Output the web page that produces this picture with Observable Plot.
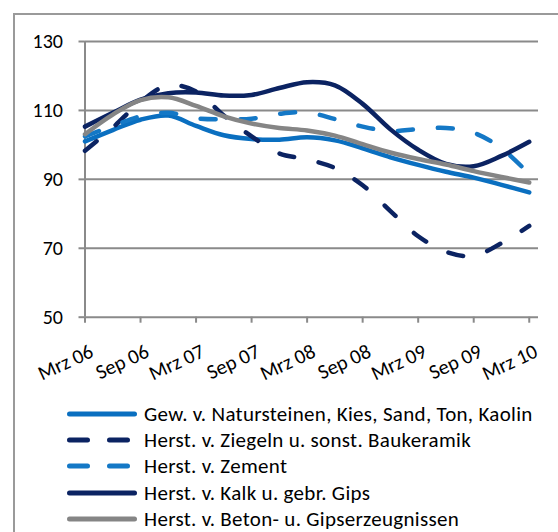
<!DOCTYPE html>
<html>
<head>
<meta charset="utf-8">
<script src="https://cdn.jsdelivr.net/npm/d3@7"></script>
<script src="https://cdn.jsdelivr.net/npm/@observablehq/plot@0.6"></script>
<style>
  html, body { margin: 0; padding: 0; background: #fff; }
  body { width: 558px; height: 532px; overflow: hidden; position: relative; font-family: Carlito, Lato, sans-serif; }
  #frame { position: absolute; left: 13px; top: 13px; width: 600px; height: 600px; border-left: 2px solid #9a9a9a; border-top: 2px solid #9a9a9a; box-sizing: border-box; pointer-events: none; }
  #chart { position: absolute; left: 0; top: 0; }
  #legend { position: absolute; left: 0; top: 401px; width: 558px; }
  .row { display: flex; align-items: center; height: 26.2px; }
  .row svg { margin-left: 66px; flex: none; }
  .row span { margin-left: 6px; font-size: 21px; letter-spacing: 0.3px; line-height: 22px; color: #000; white-space: nowrap; }
</style>
</head>
<body>
<div id="frame"></div>
<div id="chart"></div>
<div id="legend"></div>
<script>
// month index from Mrz 06 (0) to Mrz 10 (48), read at quarterly points
const months = [0, 3, 6, 9, 12, 15, 18, 21, 24, 27, 30, 33, 36, 39, 42, 45, 48];
const tickLabels = ["Mrz 06", "Sep 06", "Mrz 07", "Sep 07", "Mrz 08", "Sep 08", "Mrz 09", "Sep 09", "Mrz 10"];
const tickMonths = [0, 6, 12, 18, 24, 30, 36, 42, 48];
const yTicks = [50, 70, 90, 110, 130];

const seriesNames = [
  "Gew. v. Natursteinen, Kies, Sand, Ton, Kaolin",
  "Herst. v. Ziegeln u. sonst. Baukeramik",
  "Herst. v. Zement",
  "Herst. v. Kalk u. gebr. Gips",
  "Herst. v. Beton- u. Gipserzeugnissen"
];
const natur   = [101.0, 104.3, 107.3, 108.5, 105.5, 102.8, 101.7, 101.5, 102.2, 101.3, 99.0, 96.4, 94.2, 92.2, 90.5, 88.4, 86.2];
const ziegeln = [98.3, 105.0, 112.5, 117.3, 115.5, 108.5, 102.5, 97.5, 95.8, 93.3, 88.3, 80.8, 73.5, 69.0, 67.8, 71.5, 76.5];
const zement  = [102.5, 105.5, 108.3, 109.3, 107.7, 107.4, 107.6, 109.0, 109.4, 107.5, 105.3, 104.0, 104.6, 104.9, 103.5, 99.0, 91.5];
const kalk    = [105.3, 109.3, 113.1, 115.0, 115.2, 114.3, 114.5, 116.5, 118.2, 117.3, 111.9, 104.5, 98.6, 94.5, 93.8, 96.8, 100.9];
const beton   = [103.1, 108.8, 113.0, 113.8, 111.3, 108.3, 106.2, 104.9, 104.2, 102.7, 100.2, 97.8, 95.9, 94.3, 92.4, 90.7, 89.1];

const seriesValues = [natur, ziegeln, zement, kalk, beton];
const seriesColors = ["#0A6FC0", "#0B2362", "#1478C6", "#0B2362", "#858585"];
const seriesDash = [null, "15,25", "15,25", null, null];

const marks = [
  Plot.gridY(yTicks, {stroke: "#8a8a8a", strokeOpacity: 1, strokeWidth: 2}),
  Plot.ruleX([0], {stroke: "#8a8a8a", strokeWidth: 2}),
  Plot.axisY({ticks: yTicks, tickSize: 6, tickPadding: 16, stroke: "#8a8a8a", strokeWidth: 2, fontSize: 20, fill: "#000", label: null}),
  // tick marks only
  Plot.axisX({ticks: tickMonths, tickFormat: () => "", tickSize: 6, stroke: "#8a8a8a", strokeWidth: 2, label: null}),
  // rotated tick labels only
  Plot.axisX({ticks: tickMonths, tickFormat: (m) => tickLabels[tickMonths.indexOf(m)], tickRotate: -25, tickSize: 0, tickPadding: 33, dx: 7, fontSize: 20.5, fill: "#000", label: null}),
];
seriesValues.forEach((vals, i) => {
  marks.push(Plot.lineY(vals, {
    x: (d, j) => months[j],
    y: (d) => d,
    stroke: seriesColors[i],
    strokeWidth: 4.5,
    strokeLinecap: "round",
    strokeLinejoin: "round",
    strokeDasharray: seriesDash[i] || undefined,
    curve: "catmull-rom"
  }));
});

const chart = Plot.plot({
  width: 558,
  height: 400,
  marginLeft: 84.5,
  marginRight: 20,
  marginTop: 41,
  marginBottom: 83.3,
  style: {fontFamily: "Carlito, Lato, sans-serif", background: "transparent", overflow: "visible"},
  x: {domain: [0, 49]},
  y: {domain: [50, 130]},
  marks
});
document.getElementById("chart").appendChild(chart);

const legend = document.getElementById("legend");
seriesNames.forEach((name, i) => {
  const row = document.createElement("div");
  row.className = "row";
  const dash = seriesDash[i] ? ' stroke-dasharray="18,22"' : "";
  row.innerHTML = `<svg width="72" height="10"><line x1="3.5" x2="68.5" y1="5" y2="5" stroke="${seriesColors[i]}" stroke-width="5" stroke-linecap="round"${dash}/></svg><span>${name}</span>`;
  legend.appendChild(row);
});
</script>
</body>
</html>
